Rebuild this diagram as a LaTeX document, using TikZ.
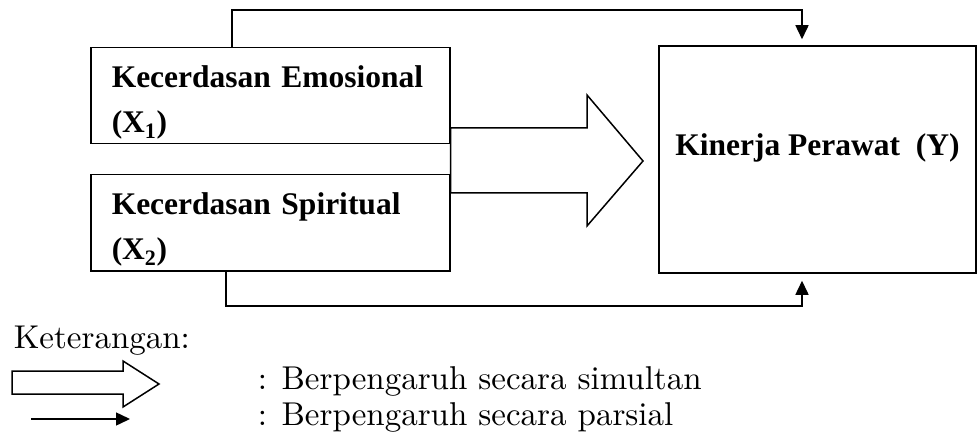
\documentclass[tikz,border=0pt]{standalone}
\usepackage{fontspec}
\newfontfamily\timesfont{Liberation Serif}
\newfontfamily\legfont{lmroman10-regular.otf}
\usetikzlibrary{arrows.meta}

\begin{document}
\begin{tikzpicture}[x=1pt,y=-1pt,line width=1.5pt,
    varbox/.style={draw, anchor=north west, minimum width=359pt, minimum height=96pt,
      text width=317pt, align=left, inner xsep=21pt, inner ysep=0pt, text height=36pt,
      font=\timesfont\bfseries\fontsize{31.5}{45}\selectfont},
    partial/.style={-{Triangle[length=14pt,width=13pt]}},
    legend/.style={anchor=base west, inner sep=0pt, font=\legfont\fontsize{33}{36}\selectfont}]
  \useasboundingbox (0,0) rectangle (979,438);

  % variabel
  \node[varbox] (x1) at (90,47) {Kecerdasan Emosional\\(X\textsubscript{1})};
  \node[varbox] (x2) at (90,174) {Kecerdasan Spiritual\\(X\textsubscript{2})};
  \node[draw, minimum width=317pt, minimum height=227pt, text depth=29pt,
    font=\timesfont\bfseries\fontsize{31.5}{45}\selectfont] (y) at (817.5,159.5) {Kinerja Perawat\ \ (Y)};

  % parsial
  \coordinate (t1) at (232,10);
  \coordinate (t2) at (802,10);
  \draw[partial, shorten >=6pt] (x1.north -| t1) -- (t1) -- (t2) -- (y.north -| t2);
  \coordinate (b1) at (226,306);
  \coordinate (b2) at (802,306);
  \draw[partial, shorten >=7pt] (x2.south -| b1) -- (b1) -- (b2) -- (y.south -| b2);

  % simultan
  \draw (x1.east |- 0,128) -- (587,128) -- (587,95) -- (643,161) -- (587,226) -- (587,193)
    -- (x1.east |- 0,193) -- cycle;

  % keterangan
  \node[legend] (ket) at (13,348) {Keterangan:};
  \draw (12,371) -- (123,371) -- (123,361) -- (159,384) -- (123,407) -- (123,394) -- (12,394) -- cycle;
  \node[legend] (sim) at (257,389) {: Berpengaruh secara simultan};
  \draw[partial] (31,419) -- (130,419);
  \node[legend] (par) at (257,425) {: Berpengaruh secara parsial};
\end{tikzpicture}
\end{document}
